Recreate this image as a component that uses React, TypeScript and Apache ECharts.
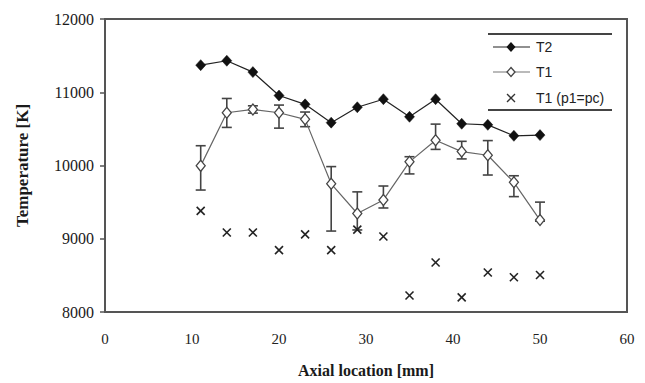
import React, { useEffect, useRef } from "react";
import * as echarts from "echarts";

const axialLocation = [11, 14, 17, 20, 23, 26, 29, 32, 35, 38, 41, 44, 47, 50];
const t2Values = [11370, 11430, 11275, 10955, 10835, 10585, 10795, 10905, 10665, 10905, 10570, 10555, 10405, 10415];
const t1Values = [9995, 10720, 10765, 10720, 10630, 9750, 9345, 9530, 10050, 10345, 10190, 10140, 9770, 9255];
const t1Low = [9665, 10520, 10715, 10510, 10530, 9105, 9120, 9420, 9885, 10220, 10090, 9870, 9575, 9240];
const t1High = [10270, 10915, 10815, 10825, 10730, 9985, 9640, 9720, 10120, 10565, 10330, 10340, 9860, 9500];
const t1pcValues = [9380, 9085, 9085, 8845, 9060, 8845, 9125, 9030, 8225, 8675, 8200, 8540, 8475, 8505];
const xTicks = { min: 0, max: 60, interval: 10 };
const yTicks = { min: 8000, max: 12000, interval: 1000 };
const legendNames = ["T2", "T1", "T1 (p1=pc)"];

export default function App() {
  const ref = useRef<HTMLDivElement>(null);
  useEffect(() => {
    if (!ref.current) return;
    const chart = echarts.init(ref.current, null, { renderer: "svg" });
    const serif = "Liberation Serif";
    const sans = "Liberation Sans";
    const lx = 493, rx = 530, tx = 536;
    const ly = [47, 72, 98];
    const diamond = (cx: number, cy: number, w: number, h: number) => [
      [cx, cy - h / 2], [cx + w / 2, cy], [cx, cy + h / 2], [cx - w / 2, cy],
    ];
    chart.setOption({
      animation: false,
      backgroundColor: "#fff",
      textStyle: { fontFamily: serif },
      grid: { left: 105, top: 19, right: 18, bottom: 71, show: true, borderColor: "#555", borderWidth: 2 },
      xAxis: {
        type: "value",
        min: xTicks.min,
        max: xTicks.max,
        interval: xTicks.interval,
        name: "Axial location [mm]",
        nameLocation: "middle",
        nameGap: 50,
        nameTextStyle: { fontFamily: serif, fontWeight: "bold", fontSize: 16, color: "#1a1a1a" },
        axisLine: { lineStyle: { color: "#555", width: 2 } },
        axisTick: { show: false },
        splitLine: { show: false },
        axisLabel: { fontFamily: serif, fontSize: 15, color: "#222", margin: 19, formatter: (v: number) => String(v) },
      },
      yAxis: {
        type: "value",
        min: yTicks.min,
        max: yTicks.max,
        interval: yTicks.interval,
        name: "Temperature [K]",
        nameLocation: "middle",
        nameGap: 74,
        nameTextStyle: { fontFamily: serif, fontWeight: "bold", fontSize: 17, color: "#1a1a1a" },
        axisLine: { lineStyle: { color: "#555", width: 2 } },
        axisTick: { show: true, length: 5, lineStyle: { color: "#555", width: 1.5 } },
        splitLine: { show: false },
        axisLabel: { fontFamily: serif, fontSize: 16, color: "#1a1a1a", margin: 11, formatter: (v: number) => String(v) },
      },
      series: [
        {
          name: "T1 error",
          type: "custom",
          z: 2,
          data: axialLocation.map((x, i) => [x, t1Low[i], t1High[i]]),
          renderItem: (params: any, api: any) => {
            const lo = api.coord([api.value(0), api.value(1)]);
            const hi = api.coord([api.value(0), api.value(2)]);
            const c = 5;
            const st = { stroke: "#444", lineWidth: 1.6 };
            return {
              type: "group",
              children: [
                { type: "line", shape: { x1: lo[0], y1: lo[1], x2: hi[0], y2: hi[1] }, style: st },
                { type: "line", shape: { x1: hi[0] - c, y1: hi[1], x2: hi[0] + c, y2: hi[1] }, style: st },
                { type: "line", shape: { x1: lo[0] - c, y1: lo[1], x2: lo[0] + c, y2: lo[1] }, style: st },
              ],
            };
          },
        },
        {
          name: "T1",
          type: "line",
          z: 3,
          data: axialLocation.map((x, i) => [x, t1Values[i]]),
          symbol: "diamond",
          symbolSize: [9, 11],
          lineStyle: { color: "#666", width: 1.2 },
          itemStyle: { color: "#fff", borderColor: "#444", borderWidth: 1.3 },
        },
        {
          name: "T2",
          type: "line",
          z: 4,
          data: axialLocation.map((x, i) => [x, t2Values[i]]),
          symbol: "diamond",
          symbolSize: [10, 11],
          lineStyle: { color: "#222", width: 1.2 },
          itemStyle: { color: "#111", borderColor: "#111", borderWidth: 0.5 },
        },
        {
          name: "T1 (p1=pc)",
          type: "custom",
          z: 5,
          data: axialLocation.map((x, i) => [x, t1pcValues[i]]),
          renderItem: (params: any, api: any) => {
            const p = api.coord([api.value(0), api.value(1)]);
            const d = 4;
            const st = { stroke: "#222", lineWidth: 1.6 };
            return {
              type: "group",
              children: [
                { type: "line", shape: { x1: p[0] - d, y1: p[1] - d, x2: p[0] + d, y2: p[1] + d }, style: st },
                { type: "line", shape: { x1: p[0] - d, y1: p[1] + d, x2: p[0] + d, y2: p[1] - d }, style: st },
              ],
            };
          },
        },
      ],
      graphic: [
        { type: "line", shape: { x1: 488, y1: 34, x2: 612, y2: 34 }, style: { stroke: "#444", lineWidth: 2 } },
        { type: "line", shape: { x1: 488, y1: 110, x2: 612, y2: 110 }, style: { stroke: "#444", lineWidth: 2 } },
        { type: "line", shape: { x1: lx, y1: ly[0], x2: rx, y2: ly[0] }, style: { stroke: "#222", lineWidth: 1.2 } },
        { type: "polygon", shape: { points: diamond(511, ly[0], 9, 10) }, style: { fill: "#111" } },
        { type: "text", x: tx, y: ly[0], style: { text: legendNames[0], fontFamily: sans, fontSize: 14, fill: "#222", verticalAlign: "middle" } },
        { type: "line", shape: { x1: lx, y1: ly[1], x2: rx, y2: ly[1] }, style: { stroke: "#777", lineWidth: 1.2 } },
        { type: "polygon", shape: { points: diamond(511, ly[1], 8, 9) }, style: { fill: "#fff", stroke: "#444", lineWidth: 1.3 } },
        { type: "text", x: tx, y: ly[1], style: { text: legendNames[1], fontFamily: sans, fontSize: 14, fill: "#222", verticalAlign: "middle" } },
        { type: "line", shape: { x1: 507, y1: ly[2] - 4, x2: 515, y2: ly[2] + 4 }, style: { stroke: "#333", lineWidth: 1.3 } },
        { type: "line", shape: { x1: 507, y1: ly[2] + 4, x2: 515, y2: ly[2] - 4 }, style: { stroke: "#333", lineWidth: 1.3 } },
        { type: "text", x: tx, y: ly[2], style: { text: legendNames[2], fontFamily: sans, fontSize: 14, fill: "#222", verticalAlign: "middle" } },
      ],
    });
    return () => chart.dispose();
  }, []);
  return <div ref={ref} style={{ position: "absolute", left: 0, top: 0, width: 645, height: 383 }} />;
}
